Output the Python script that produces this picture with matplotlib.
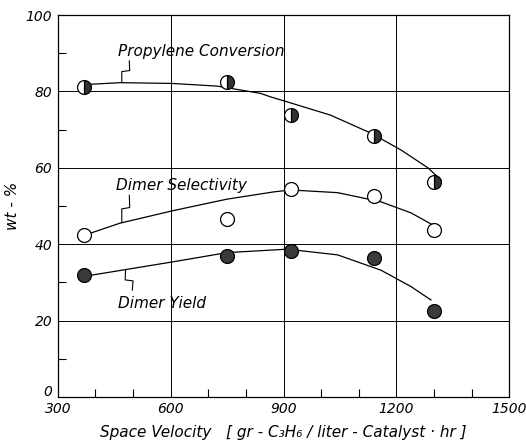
import matplotlib.pyplot as plt
import numpy as np
from matplotlib.ticker import MultipleLocator, FuncFormatter

# measured points
sv = [370, 750, 920, 1140, 1300]
conversion = [81.2, 82.5, 73.8, 68.3, 56.3]
selectivity = [42.4, 46.6, 54.5, 52.6, 43.7]
dimer_yield = [31.9, 36.9, 38.2, 36.4, 22.5]

# hand-drawn fit curves
conv_x = [390, 465, 604, 724, 839, 865, 919, 1025, 1132, 1212, 1284, 1319]
conv_y = [81.9, 82.3, 82.1, 81.4, 79.5, 78.6, 77.0, 73.8, 69.1, 64.7, 60.0, 56.8]
sel_x = [390, 465, 607, 750, 874, 919, 1044, 1159, 1239, 1305]
sel_y = [43.0, 45.5, 48.8, 51.8, 53.7, 54.2, 53.5, 51.1, 48.2, 44.6]
yld_x = [390, 607, 750, 910, 1044, 1159, 1239, 1292]
yld_y = [31.9, 35.4, 37.8, 38.7, 37.2, 33.2, 28.9, 25.4]

labels = ['Propylene Conversion', 'Dimer Selectivity', 'Dimer Yield']

plt.rcParams['font.family'] = ['DejaVu Sans']
plt.rcParams['font.style'] = 'italic'

fig = plt.figure(figsize=(5.26, 4.44), dpi=100)
ax = fig.add_axes([0.110, 0.106, 0.858, 0.860])

ax.plot(conv_x, conv_y, color='black', lw=0.9)
ax.plot(sel_x, sel_y, color='black', lw=0.9)
ax.plot(yld_x, yld_y, color='black', lw=0.9)

ax.plot(sv, conversion, 'o', ms=10, fillstyle='right', markerfacecolor='#333333',
        markerfacecoloralt='white', markeredgecolor='black', markeredgewidth=0.9, zorder=3)
ax.plot(sv, selectivity, 'o', ms=10, markerfacecolor='white',
        markeredgecolor='black', markeredgewidth=0.9, zorder=3)
ax.plot(sv, dimer_yield, 'o', ms=10, markerfacecolor='#3a3a3a',
        markeredgecolor='black', markeredgewidth=0.9, zorder=3)


def squiggle(x0, y0, x1, y1):
    # little lightning-shaped leader from label to curve
    t = np.array([0, 0.45, 0.5, 1.0])
    off = np.array([0, 1.0, -1.0, 0]) * 10
    xs = x0 + (x1 - x0) * t + off
    ys = y0 + (y1 - y0) * t
    ax.plot(xs, ys, color='black', lw=0.8)


ax.text(460, 90.5, labels[0], fontsize=11, ha='left', va='center')
ax.text(455, 55.5, labels[1], fontsize=11, ha='left', va='center')
ax.text(460, 24.5, labels[2], fontsize=11, ha='left', va='center')
squiggle(490, 88.0, 470, 82.4)
squiggle(490, 52.8, 470, 45.7)
squiggle(498, 28.0, 480, 33.3)

ax.set_xlim(300, 1500)
ax.set_ylim(0, 100)
ax.xaxis.set_major_locator(MultipleLocator(300))
ax.xaxis.set_minor_locator(MultipleLocator(100))
ax.yaxis.set_major_locator(MultipleLocator(20))
ax.yaxis.set_minor_locator(MultipleLocator(10))
# the y "0" sits up in the corner, drawn separately below
ax.yaxis.set_major_formatter(FuncFormatter(lambda v, p: '' if v == 0 else f'{v:.0f}'))
ax.grid(True, which='major', color='black', lw=0.7)
ax.tick_params(which='major', length=0, labelsize=10, pad=4)
ax.tick_params(which='minor', direction='in', length=6, width=0.8)
for s in ax.spines.values():
    s.set_linewidth(0.9)

ax.text(-0.012, 0.012, '0', transform=ax.transAxes, fontsize=10, ha='right', va='center')

ax.set_ylabel('wt - %', fontsize=11, labelpad=4)
ax.set_xlabel('Space Velocity   [ gr - C\u2083H\u2086 / liter - Catalyst \u00b7 hr ]',
              fontsize=11, labelpad=6)

fig.savefig('out.png', dpi=100)
